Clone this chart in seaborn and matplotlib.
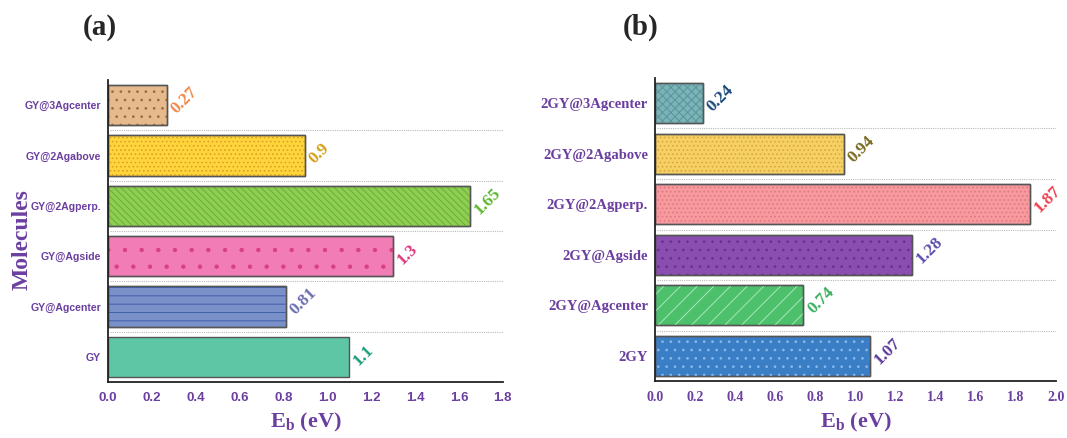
import matplotlib
matplotlib.use("Agg")
import matplotlib.pyplot as plt
from matplotlib.patches import Rectangle
from matplotlib.ticker import MultipleLocator, FormatStrFormatter
import seaborn as sns

# panel (a), listed top to bottom
names_a = ["GY@3Agcenter", "GY@2Agabove", "GY@2Agperp.", "GY@Agside", "GY@Agcenter", "GY"]
vals_a = [0.27, 0.9, 1.65, 1.3, 0.81, 1.1]
fill_a = ["#e6ba8c", "#fed53c", "#8ecf52", "#f27cb6", "#7a90c8", "#5ec6a5"]
hatch_a = ["..", "....", "\\\\\\\\\\", ".", "--", None]
hcol_a = ["#9a6a40", "#e0a020", "#6aae38", "#d8407f", "#4060a8", None]
lab_a = ["#f0884a", "#d4a015", "#5cb82e", "#e0357f", "#6b6fb0", "#1a9e7a"]

# panel (b), listed top to bottom
names_b = ["2GY@3Agcenter", "2GY@2Agabove", "2GY@2Agperp.", "2GY@Agside", "2GY@Agcenter", "2GY"]
vals_b = [0.24, 0.94, 1.87, 1.28, 0.74, 1.07]
fill_b = ["#7ab4b8", "#f6d062", "#f79aa0", "#8a4eb0", "#4dc06c", "#3a7ec6"]
hatch_b = ["xxxx", "....", "....", "..", "//", ".."]
hcol_b = ["#5a9498", "#d8a840", "#e07880", "#6a3090", "#a8e8b8", "#8ab8e8"]
lab_b = ["#1a4a7a", "#7a6a20", "#f04050", "#5a4ea8", "#3cb060", "#5b3a9a"]

purple = "#6b3fa0"
serif = "Liberation Serif"
sans = "Liberation Sans"

sns.set_style("white")
plt.rcParams["hatch.linewidth"] = 0.7
plt.rcParams["mathtext.fontset"] = "custom"
plt.rcParams["mathtext.rm"] = serif
plt.rcParams["mathtext.bf"] = serif + ":bold"

fig = plt.figure(figsize=(10.67, 4.38), dpi=100)
ax_a = fig.add_axes([0.1012, 0.128, 0.370, 0.6895])
ax_b = fig.add_axes([0.6139, 0.130, 0.376, 0.692])


def panel(ax, names, vals, fills, hatches, hcols, labcols, xmax, tickfont, ticksize, ysize):
    sns.barplot(x=vals, y=names, hue=names, palette=fills, orient="h", width=0.8,
                saturation=1, edgecolor="#555555", linewidth=1.0, legend=False, ax=ax)
    for p in ax.patches:
        i = int(round(p.get_y() + p.get_height() / 2))
        if hatches[i]:
            ax.add_patch(Rectangle((p.get_x(), p.get_y()), p.get_width(), p.get_height(),
                                   fill=False, hatch=hatches[i], edgecolor=hcols[i],
                                   linewidth=0, zorder=p.get_zorder() + 0.1))
            ax.add_patch(Rectangle((p.get_x(), p.get_y()), p.get_width(), p.get_height(),
                                   fill=False, edgecolor="#555555", linewidth=1.0,
                                   zorder=p.get_zorder() + 0.2))
        ax.text(p.get_width() + 0.03 * xmax / 1.8, i + 0.12, f"{vals[i]:g}", rotation=45,
                rotation_mode="anchor", ha="left", va="center", color=labcols[i],
                fontsize=12.5, fontweight="bold", family=serif)
    for b in [0.5, 1.5, 2.5, 3.5, 4.5]:
        ax.axhline(b, xmin=0.005, xmax=1.0, color="#bbbbbb", linestyle=(0, (1, 1)),
                   linewidth=0.8, zorder=0)
    ax.set_xlim(0, xmax)
    ax.set_ylim(5.5, -0.5)
    ax.xaxis.set_major_locator(MultipleLocator(0.2))
    ax.xaxis.set_minor_locator(MultipleLocator(0.05))
    ax.xaxis.set_major_formatter(FormatStrFormatter("%.1f"))
    ax.set_yticks([-0.5, 0.5, 1.5, 2.5, 3.5, 4.5, 5.5], minor=False)
    ax.set_yticklabels([])
    ax.set_yticks(range(len(names)), minor=True)
    ax.set_yticklabels(names, minor=True, fontsize=ysize, fontweight="bold",
                       color=purple, family=tickfont)
    ax.tick_params(axis="y", which="minor", length=0, pad=5)
    ax.tick_params(axis="y", which="major", direction="inout", length=6, width=1, color="#222222")
    ax.tick_params(axis="x", which="major", direction="in", length=5, width=1,
                   color="#222222", labelsize=ticksize, labelcolor=purple, pad=7)
    ax.tick_params(axis="x", which="minor", direction="in", length=3, width=0.8, color="#222222")
    for lab in ax.get_xticklabels():
        lab.set_fontweight("bold")
        lab.set_family(tickfont)
    for s in ["top", "right"]:
        ax.spines[s].set_visible(False)
    for s in ["left", "bottom"]:
        ax.spines[s].set_color("#222222")
        ax.spines[s].set_linewidth(1.3)
    ax.set_xlabel("E$_\\mathbf{b}$ (eV)", fontsize=16, fontweight="bold",
                  color=purple, family=serif, labelpad=5)
    ax.set_ylabel("")


panel(ax_a, names_a, vals_a, fill_a, hatch_a, hcol_a, lab_a, 1.8, sans, 9.5, 7.6)
panel(ax_b, names_b, vals_b, fill_b, hatch_b, hcol_b, lab_b, 2.0, serif, 10, 10.5)

ax_a.set_ylabel("Molecules", fontsize=17, fontweight="bold", color=purple, family=serif)
ax_a.yaxis.set_label_coords(-0.192, 0.47)

fig.text(0.094, 0.938, "(a)", ha="center", va="center", fontsize=21,
         fontweight="bold", family=serif)
fig.text(0.600, 0.938, "(b)", ha="center", va="center", fontsize=21,
         fontweight="bold", family=serif)

fig.savefig("out.png", dpi=100)
